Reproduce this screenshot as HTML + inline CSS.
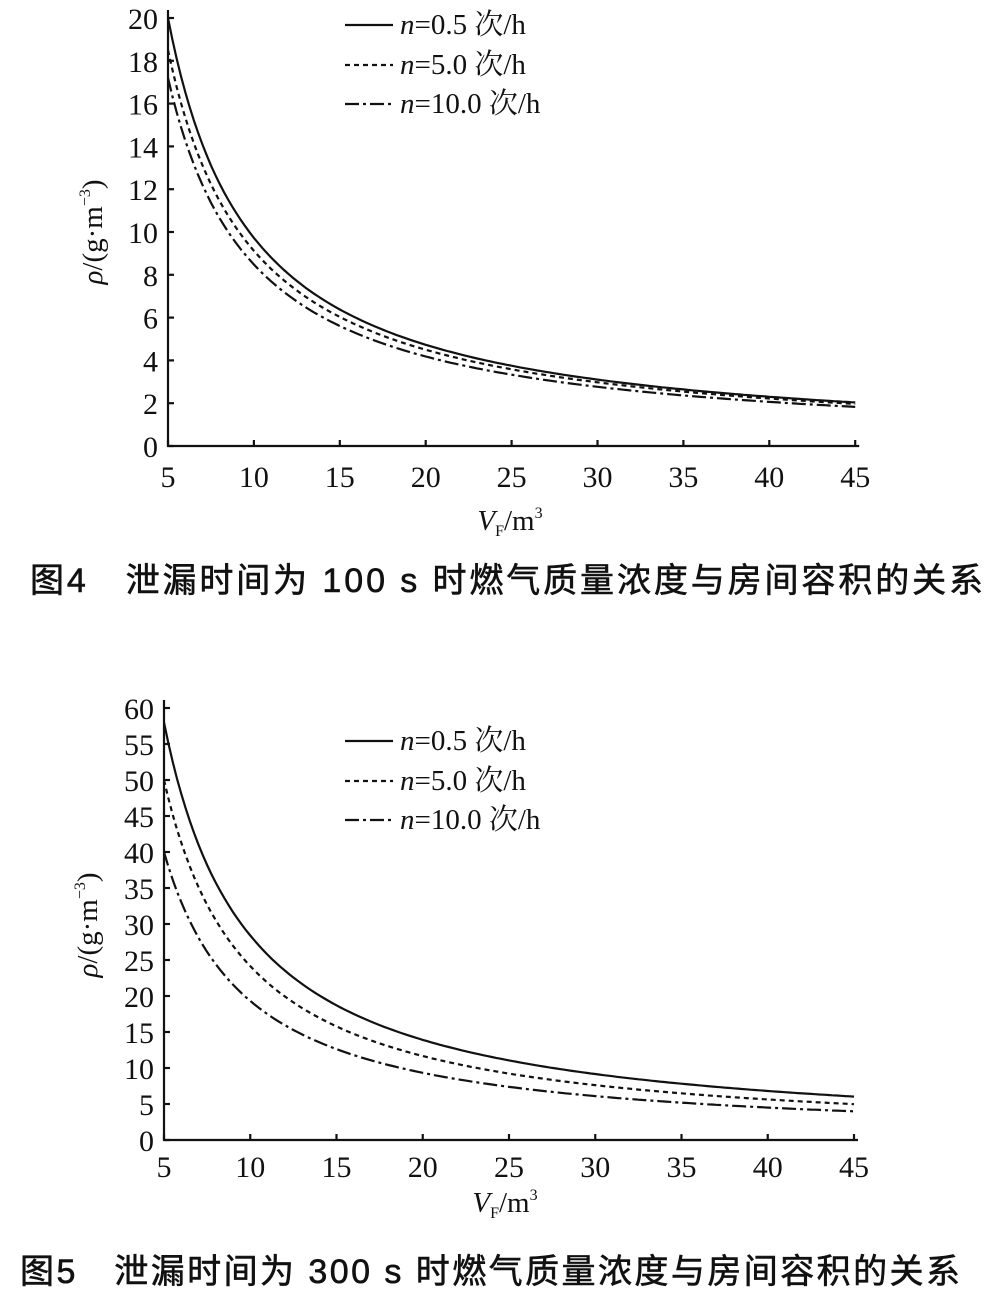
<!DOCTYPE html>
<html><head><meta charset="utf-8"><style>
body{margin:0;background:#fff;}
svg{display:block}
text{font-family:"Liberation Serif","Noto Serif CJK SC",serif;fill:#111}
.cap{font-family:"Liberation Sans","Noto Sans CJK SC",sans-serif;font-size:34px;stroke:#111;stroke-width:0.6}
</style></head><body>
<svg id="s" width="990" height="1298" viewBox="0 0 990 1298" xmlns="http://www.w3.org/2000/svg">
<g id="g" stroke="#111" fill="none" stroke-width="2.2"></g>
<g font-size="30" text-anchor="end" id="yl"></g>
<g font-size="30" text-anchor="middle" id="xl"></g>
<g font-size="29">
<text x="400" y="34"><tspan font-style="italic">n</tspan>=0.5 次/h</text>
<text x="400" y="74"><tspan font-style="italic">n</tspan>=5.0 次/h</text>
<text x="400" y="113"><tspan font-style="italic">n</tspan>=10.0 次/h</text>
<text x="400" y="750"><tspan font-style="italic">n</tspan>=0.5 次/h</text>
<text x="400" y="790"><tspan font-style="italic">n</tspan>=5.0 次/h</text>
<text x="400" y="829"><tspan font-style="italic">n</tspan>=10.0 次/h</text>
</g>
<g stroke="#111" stroke-width="2.2">
<line x1="345" y1="25" x2="393" y2="25"/>
<line x1="345" y1="65" x2="393" y2="65" stroke-dasharray="5,4"/>
<line x1="345" y1="104" x2="393" y2="104" stroke-dasharray="14,4,3,4"/>
<line x1="345" y1="741" x2="393" y2="741"/>
<line x1="345" y1="781" x2="393" y2="781" stroke-dasharray="5,4"/>
<line x1="345" y1="820" x2="393" y2="820" stroke-dasharray="14,4,3,4"/>
</g>
<text x="510" y="530" font-size="29" text-anchor="middle"><tspan font-style="italic">V</tspan><tspan font-size="16" dy="6">F</tspan><tspan dy="-6">/m</tspan><tspan font-size="16" dy="-12">3</tspan></text>
<text x="505" y="1212" font-size="29" text-anchor="middle"><tspan font-style="italic">V</tspan><tspan font-size="16" dy="6">F</tspan><tspan dy="-6">/m</tspan><tspan font-size="16" dy="-12">3</tspan></text>
<text transform="translate(102,232) rotate(-90)" font-size="29" text-anchor="middle"><tspan font-style="italic">ρ</tspan>/(g·m<tspan font-size="16" dy="-12">−3</tspan><tspan dy="12">)</tspan></text>
<text transform="translate(97,925) rotate(-90)" font-size="29" text-anchor="middle"><tspan font-style="italic">ρ</tspan>/(g·m<tspan font-size="16" dy="-12">−3</tspan><tspan dy="12">)</tspan></text>
<text class="cap" x="30" y="592" textLength="953" lengthAdjust="spacing">图4　泄漏时间为 100 s 时燃气质量浓度与房间容积的关系</text>
<text class="cap" x="20" y="1283" textLength="940" lengthAdjust="spacing">图5　泄漏时间为 300 s 时燃气质量浓度与房间容积的关系</text>
</svg>
<script>
var NS="http://www.w3.org/2000/svg";
function el(p,t,a,txt){var e=document.createElementNS(NS,t);for(var k in a)e.setAttribute(k,a[k]);if(txt!=null)e.textContent=txt;document.getElementById(p).appendChild(e);return e;}
function chart(x0,y0,sx,sy,ymax,ystep,curves,xo){
 el('g','path',{d:'M'+x0+' '+(y0-ymax*sy-8)+'V'+y0+'H'+(x0+40*sx+4)});
 for(var v=0;v<=ymax;v+=ystep){var y=y0-v*sy;el('g','line',{x1:x0,y1:y,x2:x0+6,y2:y});el('yl','text',{x:x0-10,y:y+11},v);}
 for(var V=5;V<=45;V+=5){var x=x0+(V-5)*sx;el('g','line',{x1:x,y1:y0,x2:x,y2:y0-6});el('xl','text',{x:x,y:y0+xo},V);}
 curves.forEach(function(c){var d='';for(var V=5;V<=45;V+=0.25){var r=c[0]*Math.pow(5/V,c[1]);d+=(d?'L':'M')+(x0+(V-5)*sx).toFixed(1)+' '+(y0-r*sy).toFixed(1);}
  var a={d:d};if(c[2])a['stroke-dasharray']=c[2];el('g','path',a);});
}
chart(168,446,17.18,21.4,20,2,[[20,1.04],[18.5,1.02,'5,4'],[17.2,1.02,'14,4,3,4']],41);
chart(164,1140,17.25,7.2,60,5,[[58,1.03],[50,1.05,'5,4'],[40,1.05,'14,4,3,4']],37);
</script>
</body></html>
